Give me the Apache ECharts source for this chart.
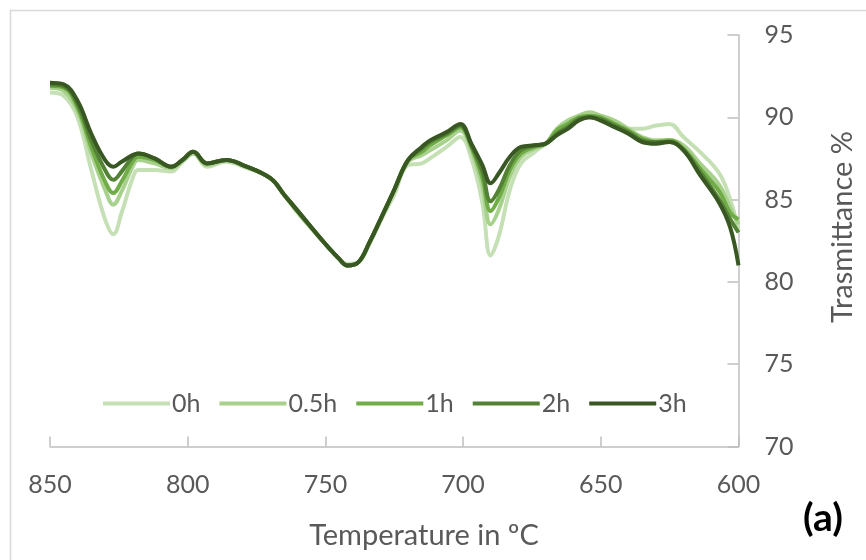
<!DOCTYPE html>
<html>
<head>
<meta charset="utf-8">
<script src="https://cdn.jsdelivr.net/npm/echarts@6/dist/echarts.min.js"></script>
<style>html,body{margin:0;padding:0;background:#fff}#c{width:866px;height:560px}</style>
</head>
<body>
<div id="c"></div>
<script>
const temps = [850,845,840,835,830,827,824,820,818,812,806,802,798,793,786,780,770,765,760,750,745,742,738,734,730,725,720,715,712,706,701,697,693,690,687,683,679,674,670,666,662,658,654,650,645,640,635,630,625,620,614,607,603,600];
const s0h = [91.5,91.3,90.0,86.8,83.8,82.9,84.2,86.3,86.8,86.8,86.7,87.3,87.8,87.0,87.3,87.0,86.3,85.3,84.2,82.3,81.4,81.1,81.2,82.3,83.7,85.3,87.1,87.2,87.5,88.2,88.8,87.5,84.8,81.6,82.8,85.6,87.2,87.9,88.4,89.0,89.8,90.0,90.2,90.0,89.7,89.3,89.3,89.5,89.6,88.8,87.9,86.6,85.0,83.1];
const s05h = [91.8,91.6,90.4,87.8,85.6,84.7,85.5,87.0,87.4,87.2,86.9,87.3,87.8,87.1,87.4,87.1,86.3,85.3,84.2,82.3,81.4,81.0,81.2,82.4,83.8,85.5,87.3,87.7,88.0,88.6,89.2,88.0,85.8,83.5,84.4,86.4,87.6,88.1,88.4,89.3,89.8,90.1,90.3,90.1,89.8,89.3,88.8,88.6,88.6,88.3,87.2,85.9,84.5,83.5];
const s1h = [91.9,91.8,90.6,88.2,86.1,85.4,86.1,87.3,87.6,87.4,87.0,87.4,87.9,87.2,87.4,87.1,86.3,85.3,84.3,82.3,81.4,81.0,81.2,82.4,83.8,85.6,87.4,87.9,88.3,88.9,89.4,88.2,86.3,84.3,85.1,86.8,87.8,88.2,88.4,89.2,89.6,90.0,90.1,90.0,89.6,89.2,88.7,88.5,88.6,88.1,86.9,85.5,84.2,83.8];
const s2h = [92.0,91.9,90.8,88.6,86.8,86.2,86.7,87.6,87.8,87.5,87.0,87.4,87.9,87.2,87.4,87.1,86.3,85.3,84.3,82.3,81.4,81.0,81.2,82.4,83.8,85.6,87.4,88.1,88.5,89.0,89.5,88.3,86.7,84.9,85.6,87.1,88.0,88.3,88.4,89.0,89.4,89.9,90.0,89.9,89.5,89.1,88.6,88.5,88.5,88.0,86.7,85.0,83.8,83.0];
const s3h = [92.1,92.0,91.0,89.0,87.4,87.0,87.3,87.7,87.8,87.5,87.0,87.4,87.9,87.2,87.4,87.1,86.3,85.3,84.3,82.3,81.4,81.0,81.2,82.4,83.8,85.6,87.4,88.2,88.6,89.1,89.6,88.4,87.1,86.0,86.6,87.6,88.2,88.3,88.4,88.9,89.3,89.8,90.0,89.8,89.4,89.0,88.5,88.4,88.5,88.0,86.5,84.8,83.3,81.0];
const seriesNames = ['0h','0.5h','1h','2h','3h'];
const seriesData = [s0h, s05h, s1h, s2h, s3h];
const colors = ['#c5e0b4','#a9d18e','#70ad47','#548235','#385723'];
const xTicks = {min:600, max:850, interval:50};
const yTicks = {min:70, max:95, interval:5};

const FONT = 'Lato';
const chart = echarts.init(document.getElementById('c'), null, {renderer:'canvas'});
chart.setOption({
  backgroundColor:'#fff',
  animation:false,
  grid:{left:50, right:127.5, top:35, bottom:113.5},
  legend:{
    left:98, top:386, icon:'rect', itemWidth:67, itemHeight:4, itemGap:19,
    data: seriesNames,
    textStyle:{fontFamily:FONT, fontSize:25, color:'#595959', padding:[0,0,0,-3]}
  },
  xAxis:{
    type:'value', inverse:true, min:xTicks.min, max:xTicks.max, interval:xTicks.interval,
    axisLine:{show:true, lineStyle:{color:'#bfbfbf', width:1.5}},
    axisTick:{show:true, inside:true, length:10, lineStyle:{color:'#bfbfbf', width:1.5}},
    axisLabel:{margin:26, fontFamily:FONT, fontSize:25, color:'#595959'},
    splitLine:{show:false}
  },
  yAxis:{
    type:'value', position:'right', min:yTicks.min, max:yTicks.max, interval:yTicks.interval,
    axisLine:{show:true, lineStyle:{color:'#bfbfbf', width:1.5}},
    axisTick:{show:true, inside:true, length:11, lineStyle:{color:'#bfbfbf', width:1.5}},
    axisLabel:{margin:26, fontFamily:FONT, fontSize:25, color:'#595959'},
    splitLine:{show:false}
  },
  graphic:[
    {type:'rect', shape:{x:10.5, y:10.5, width:900, height:600}, style:{fill:'none', stroke:'#d9d9d9', lineWidth:1.5}, silent:true},
    {type:'text', x:424, y:536, style:{text:'Temperature in ºC', fontFamily:FONT, fontSize:29, fill:'#595959', align:'center', verticalAlign:'middle'}},
    {type:'text', x:843, y:227, rotation:Math.PI/2, style:{text:'Trasmittance %', fontFamily:FONT, fontSize:29, fill:'#595959', align:'center', verticalAlign:'middle'}},
    {type:'text', x:823, y:518, style:{text:'(a)', fontFamily:FONT, fontWeight:'bold', fontSize:39, fill:'#000', align:'center', verticalAlign:'middle'}}
  ],
  series: seriesNames.map((n,i)=>({
    name:n, type:'line', symbol:'none', smooth:0.4,
    data: temps.map((t,j)=>[t, seriesData[i][j]]),
    lineStyle:{color:colors[i], width:4},
    itemStyle:{color:colors[i]}
  }))
});
</script>
</body>
</html>
